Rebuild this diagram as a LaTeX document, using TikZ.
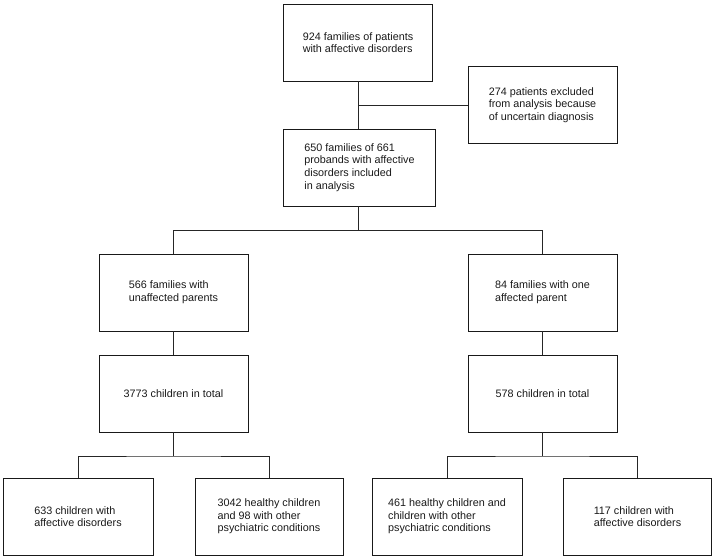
\documentclass[tikz,border=0pt]{standalone}
\usepackage{fontspec}
\setmainfont{Liberation Sans}
\begin{document}
\begin{tikzpicture}[x=1pt,y=-1pt,
  box/.style={draw=black!90, line width=0.9pt, minimum width=149pt, minimum height=77pt,
    align=left, inner sep=0pt, text=black!90, font=\fontsize{10.8}{12.6}\selectfont},
  link/.style={draw=black!85, line width=0.9pt}]
\useasboundingbox (0,0) rectangle (716,560);
\node[box] (b1) at (358,42.5) {924 families of patients\\with affective disorders};
\node[box] (b2) at (542.5,105) {274 patients excluded\\from analysis because\\of uncertain diagnosis};
\node[box, minimum width=152pt] (b3) at (359.5,167.5) {650 families of 661\\probands with affective\\disorders included\\in analysis};
\node[box] (b4) at (173.5,292.5) {566 families with\\unaffected parents};
\node[box] (b5) at (542.5,292.5) {84 families with one\\affected parent};
\node[box] (b6) at (173.5,393.5) {3773 children in total};
\node[box] (b7) at (542.5,393.5) {578 children in total};
\node[box, minimum width=150pt] (b8) at (78,516.5) {633 children with\\affective disorders};
\node[box, minimum width=148pt] (b9) at (269,516.5) {3042 healthy children\\and 98 with other\\psychiatric conditions};
\node[box, minimum width=150pt] (b10) at (447,516.5) {461 healthy children and\\children with other\\psychiatric conditions};
\node[box, minimum width=148pt] (b11) at (637.5,516.5) {117 children with\\affective disorders};
\coordinate (j1) at (358,105);
\coordinate (j2) at (358,230.5);
\coordinate (j3) at (173.5,456);
\coordinate (j4) at (542.5,456);
\draw[link] (b1.south) -- (b1.south |- b3.north);
\draw[link] (j1) -- (b2.west);
\draw[link] (b3.south -| j2) -- (j2);
\draw[link] (b4.north) |- (j2) -| (b5.north);
\draw[link] (b4.south) -- (b6.north);
\draw[link] (b5.south) -- (b7.north);
\draw[link] (b6.south) -- (j3);
\draw[link] (b7.south) -- (j4);
\draw[link] (b8.north) |- (j3) -| (b9.north);
\draw[link] (b10.north) |- (j4) -| (b11.north);
\end{tikzpicture}
\end{document}
